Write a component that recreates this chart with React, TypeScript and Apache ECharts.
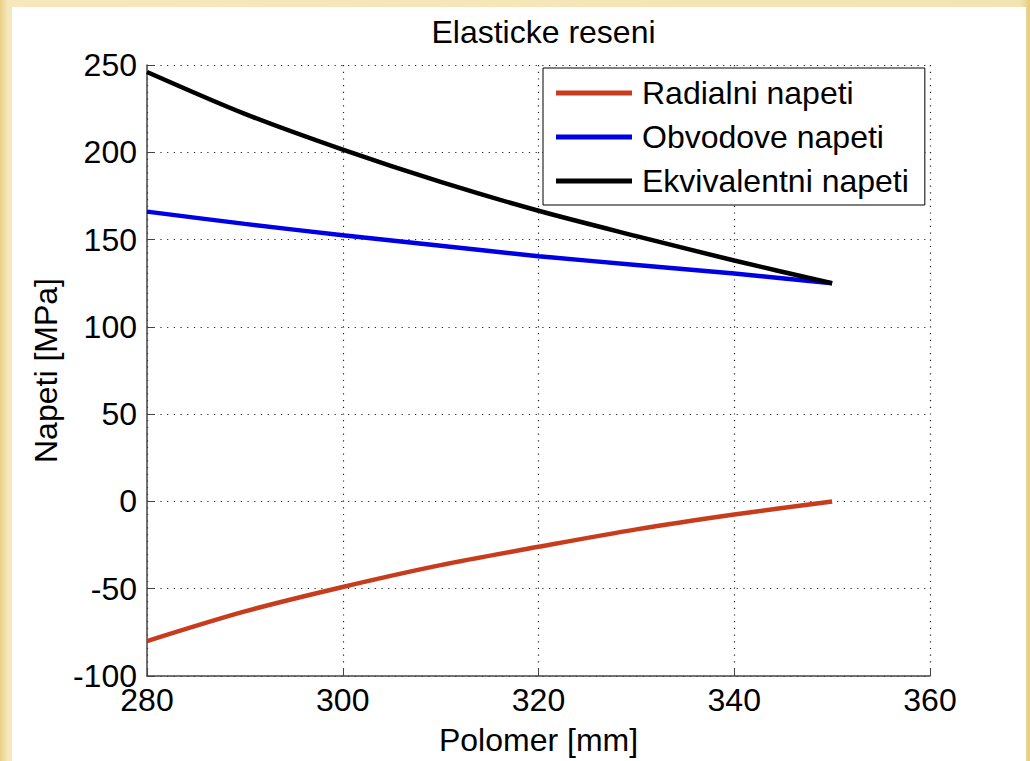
import React, { useEffect, useRef } from "react";
import * as echarts from "echarts";

const radius = [280, 290, 300, 310, 320, 330, 340, 350];
const radialStress = [-80, -63, -49, -36.5, -26, -16, -7.5, 0];
const hoopStress = [166, 159, 152.5, 146.5, 140.5, 135.5, 130.5, 125];
const equivStress = [246, 222, 201.5, 183, 166.5, 152, 138, 125];

const seriesNames = ["Radialni napeti", "Obvodove napeti", "Ekvivalentni napeti"];
const seriesColors = ["#c83c1e", "#0000e6", "#000000"];
const titleText = "Elasticke reseni";
const xName = "Polomer [mm]";
const yName = "Napeti [MPa]";

const FONT = "'Liberation Sans', Arial, sans-serif";

export default function App() {
  const ref = useRef<HTMLDivElement>(null);

  useEffect(() => {
    if (!ref.current) return;
    const chart = echarts.init(ref.current, undefined, { renderer: "svg" });
    const values = [radialStress, hoopStress, equivStress];
    const axisLine = { show: true, onZero: false, lineStyle: { color: "#444", width: 1.5 } };
    const splitLine = { show: true, lineStyle: { color: "#222", width: 1.2, type: [1.2, 5.5] } };
    chart.setOption({
      animation: false,
      backgroundColor: "#ffffff",
      title: {
        text: titleText,
        left: 526.5,
        textAlign: "center",
        top: 4,
        textStyle: { fontFamily: FONT, fontSize: 32, fontWeight: "normal", color: "#000" },
      },
      grid: { left: 135, top: 58, right: 96, bottom: 81, containLabel: false },
      legend: {
        left: 531,
        top: 61,
        orient: "vertical",
        backgroundColor: "#fff",
        borderColor: "#000",
        borderWidth: 1,
        padding: [7, 16, 6, 13],
        itemWidth: 76,
        itemHeight: 5,
        itemGap: 8,
        icon: "rect",
        textStyle: { fontFamily: FONT, fontSize: 32, color: "#000", lineHeight: 36, padding: [0, 0, 0, 5] },
        data: seriesNames,
      },
      xAxis: {
        type: "value",
        min: 280,
        max: 360,
        interval: 20,
        name: xName,
        nameLocation: "middle",
        nameGap: 48,
        nameTextStyle: { fontFamily: FONT, fontSize: 32, color: "#000" },
        axisLine,
        axisTick: { show: true, inside: true, length: 8, lineStyle: { color: "#444" } },
        axisLabel: { fontFamily: FONT, fontSize: 32, color: "#000", margin: 8 },
        splitLine,
      },
      yAxis: {
        type: "value",
        min: -100,
        max: 250,
        interval: 50,
        name: yName,
        nameLocation: "middle",
        nameGap: 84,
        nameTextStyle: { fontFamily: FONT, fontSize: 32, color: "#000" },
        axisLine,
        axisTick: { show: true, inside: true, length: 8, lineStyle: { color: "#444" } },
        axisLabel: { fontFamily: FONT, fontSize: 32, color: "#000", margin: 10 },
        splitLine,
      },
      series: seriesNames.map((name, i) => ({
        name,
        type: "line",
        smooth: 0.3,
        showSymbol: false,
        symbol: "none",
        data: radius.map((r, j) => [r, values[i][j]]),
        lineStyle: { color: seriesColors[i], width: 4.5 },
        itemStyle: { color: seriesColors[i] },
      })),
    });
    return () => chart.dispose();
  }, []);

  return (
    <div
      style={{
        position: "fixed",
        left: 0,
        top: 0,
        width: 1030,
        height: 761,
        background: "linear-gradient(90deg, #e9cf86 0px, #f6e7bd 8px, #f4e3b2 1020px, #e7cb80 1030px)",
        overflow: "hidden",
      }}
    >
      <div
        ref={ref}
        style={{ position: "absolute", left: 12, top: 7, width: 1014, height: 754 }}
      />
    </div>
  );
}
